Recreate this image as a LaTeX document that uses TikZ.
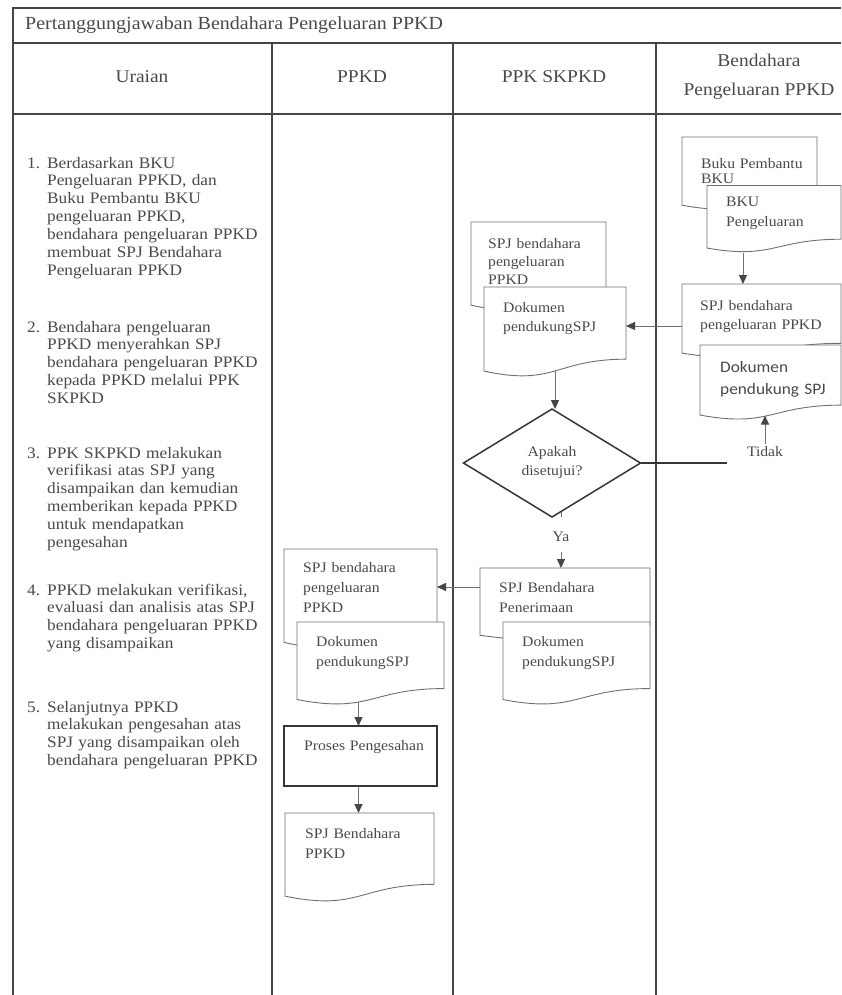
\documentclass[tikz,border=0pt]{standalone}
\usepackage{fontspec}
\setmainfont{Liberation Serif}[FakeStretch=1.08]
\newfontfamily\calibfont{Carlito}[FakeStretch=1.08]
\usetikzlibrary{arrows.meta,calc,shapes.geometric}

\definecolor{frame}{HTML}{454545}
\definecolor{ink}{HTML}{4a4a4a}
\definecolor{docline}{HTML}{707070}
\definecolor{boldline}{HTML}{363636}

\tikzset{
  lane/.style={draw=frame, line width=1.8pt},
  docbox/.style={inner sep=0pt, outer sep=0pt, anchor=north west},
  docfill/.style={draw=docline, fill=white, line width=0.9pt},
  doctext/.style={inner sep=0pt, anchor=base west, text width=180pt, align=left,
    text=ink, font=\fontsize{14.5}{#1}\selectfont},
  doctext/.default=19,
  listtext/.style={inner sep=0pt, anchor=base west, text width=260pt, align=left,
    text=ink, font=\fontsize{16}{17.9}\selectfont},
  listnum/.style={inner sep=0pt, anchor=base west, text=ink, font=\fontsize{16}{17.9}\selectfont},
  headtext/.style={inner sep=0pt, text=ink, align=center, font=\fontsize{18}{29}\selectfont},
  arr/.style={draw=docline, line width=0.9pt, -{Triangle[length=9pt,width=8pt,color=frame]}},
  plainlink/.style={draw=docline, line width=0.9pt},
  boldbox/.style={draw=boldline, line width=1.8pt, fill=white, inner sep=0pt, outer sep=0pt},
  lbl/.style={inner sep=0pt, text=ink, font=\fontsize{14.5}{19}\selectfont},
}

% document symbol with a wavy bottom edge, drawn over the bounding node
\newcommand\docoutline[1]{%
  \filldraw[docfill] (#1.north west) -- (#1.north east)
    -- ($(#1.north east)!0.802!(#1.south east)$)
    .. controls ($(#1.north)!0.802!(#1.south)$) and ($(#1.north)!1.107!(#1.south)$)
    .. ($(#1.north west)!0.934!(#1.south west)$) -- cycle;}

\begin{document}
\begin{tikzpicture}[x=1pt,y=-1pt]
\useasboundingbox (0,0) rectangle (841,995);
\fill[white] (0,0) rectangle (841,995);

% ---------- table frame ----------
\draw[lane] (13,8) -- (841,8);
\draw[lane] (13,43) -- (841,43);
\draw[lane] (13,114) -- (841,114);
\draw[lane] (13,7) -- (13,995);
\draw[lane] (272,43) -- (272,995);
\draw[lane] (453,43) -- (453,995);
\draw[lane] (656,43) -- (656,995);

\node[inner sep=0pt, anchor=west, text=ink, font=\fontsize{18.5}{22}\selectfont] (title) at (25,25)
  {Pertanggungjawaban Bendahara Pengeluaran PPKD};
\node[headtext] (hUraian) at (142,77) {Uraian};
\node[headtext] (hPPKD) at (362,77) {PPKD};
\node[headtext] (hSKPKD) at (554,77) {PPK SKPKD};
\node[headtext] (hBend) at (759,76.5) {Bendahara\\Pengeluaran PPKD};

% ---------- description column ----------
\node[listnum] (n1) at (27,168) {1.};
\node[listtext] (t1) at (47,168) {Berdasarkan BKU\\Pengeluaran PPKD, dan\\Buku Pembantu BKU\\pengeluaran PPKD,\\bendahara pengeluaran PPKD\\membuat SPJ Bendahara\\Pengeluaran PPKD};
\node[listnum] (n2) at (27,332) {2.};
\node[listtext] (t2) at (47,332) {Bendahara pengeluaran\\PPKD menyerahkan SPJ\\bendahara pengeluaran PPKD\\kepada PPKD melalui PPK\\SKPKD};
\node[listnum] (n3) at (27,458) {3.};
\node[listtext] (t3) at (47,458) {PPK SKPKD melakukan\\verifikasi atas SPJ yang\\disampaikan dan kemudian\\memberikan kepada PPKD\\untuk mendapatkan\\pengesahan};
\node[listnum] (n4) at (27,595) {4.};
\node[listtext] (t4) at (47,595) {PPKD melakukan verifikasi,\\evaluasi dan analisis atas SPJ\\bendahara pengeluaran PPKD\\yang disampaikan};
\node[listnum] (n5) at (27,712) {5.};
\node[listtext] (t5) at (47,712) {Selanjutnya PPKD\\melakukan pengesahan atas\\SPJ yang disampaikan oleh\\bendahara pengeluaran PPKD};

% ---------- Bendahara Pengeluaran PPKD lane ----------
\node[docbox, minimum width=135pt, minimum height=73pt] (bkuB) at (682,137) {};
\docoutline{bkuB}
\node[doctext=15] (bkuBt) at (701,169) {Buku Pembantu\\BKU};
\node[docbox, minimum width=134pt, minimum height=67pt] (bkuF) at (707,185.5) {};
\docoutline{bkuF}
\node[doctext=20] (bkuFt) at (726,207) {BKU\\Pengeluaran};

\node[docbox, minimum width=159pt, minimum height=74pt] (spjB) at (682,284) {};
\docoutline{spjB}
\node[doctext] (spjBt) at (700,310) {SPJ bendahara\\pengeluaran PPKD};
\node[docbox, minimum width=141pt, minimum height=75pt] (dokR) at (700,345) {};
\docoutline{dokR}
\node[inner sep=0pt, anchor=base west, text width=130pt, align=left, text=ink,
  font=\calibfont\fontsize{16}{22}\selectfont] (dokRt) at (720,372) {Dokumen\\pendukung SPJ};

\coordinate (bkuW) at ([xshift=-31pt]bkuF.south);
\draw[arr] (bkuW) -- (bkuW |- spjB.north);

% ---------- PPK SKPKD lane ----------
\node[docbox, minimum width=135pt, minimum height=89pt] (spjM) at (471,222) {};
\docoutline{spjM}
\node[doctext=18] (spjMt) at (488,248) {SPJ bendahara\\pengeluaran\\PPKD};
\node[docbox, minimum width=142pt, minimum height=90pt] (dokM) at (484,287) {};
\docoutline{dokM}
\node[doctext] (dokMt) at (503,312) {Dokumen\\pendukungSPJ};

\draw[arr] ([yshift=-5pt]spjB.west) -- ([yshift=-5pt]spjB.west -| dokM.east);

\node[diamond, boldbox, line width=1.5pt, minimum width=177pt, minimum height=108pt] (dia) at (552,463) {};
\node[lbl, align=center] (diaT) at (552,463) {Apakah\\disetujui?};
\coordinate (dokMw) at ($(dokM.north)!0.933!(dokM.south)$);
\draw[arr] (dokMw) -- (dokMw |- dia.north);

\coordinate (tidakEnd) at (727,463);
\draw[draw=boldline, line width=1.5pt] (dia.east) -- (tidakEnd);
\node[lbl, inner sep=3pt] (tidak) at (765,452) {Tidak};
\coordinate (dokRw) at ($(dokR.north)!0.94!(dokR.south)$);
\draw[arr] (tidak.north) -- (tidak.north |- dokRw);

\node[docbox, minimum width=170pt, minimum height=72pt] (spjM2) at (480,568) {};
\docoutline{spjM2}
\node[doctext=20] (spjM2t) at (499,592) {SPJ Bendahara\\Penerimaan};
\node[docbox, minimum width=147pt, minimum height=83pt] (dokM2) at (503,622) {};
\docoutline{dokM2}
\node[doctext=20] (dokM2t) at (522,646) {Dokumen\\pendukungSPJ};

\node[lbl, minimum height=30pt] (ya) at (561,537) {Ya};
\draw[plainlink] ([xshift=9pt,yshift=5pt]dia.south) -- ([xshift=9pt,yshift=5pt]dia.south |- ya.north);
\draw[arr] (ya.south) -- (ya.south |- spjM2.north);

% ---------- PPKD lane ----------
\node[docbox, minimum width=153pt, minimum height=100pt] (spjP) at (284,549) {};
\docoutline{spjP}
\node[doctext=20] (spjPt) at (303,572) {SPJ bendahara\\pengeluaran\\PPKD};
\node[docbox, minimum width=147pt, minimum height=83pt] (dokP) at (297,622) {};
\docoutline{dokP}
\node[doctext=20] (dokPt) at (316,646) {Dokumen\\pendukungSPJ};

\draw[arr] ([yshift=17pt]spjM2.west) -- ([yshift=17pt]spjM2.west -| spjP.east);

\node[boldbox, anchor=north west, minimum width=153pt, minimum height=60pt] (proc) at (284,726) {};
\node[doctext] (proct) at (304,750) {Proses Pengesahan};
\coordinate (dokPw) at ($(dokP.north)!0.962!(dokP.south)+(-12pt,0)$);
\draw[arr] (dokPw) -- (dokPw |- proc.north);

\node[docbox, minimum width=149pt, minimum height=89pt] (spjF) at (285,813) {};
\docoutline{spjF}
\node[doctext=20] (spjFt) at (305,838) {SPJ Bendahara\\PPKD};
\draw[arr] ([xshift=-2pt]proc.south) -- ([xshift=-2pt]proc.south |- spjF.north);

\end{tikzpicture}
\end{document}
